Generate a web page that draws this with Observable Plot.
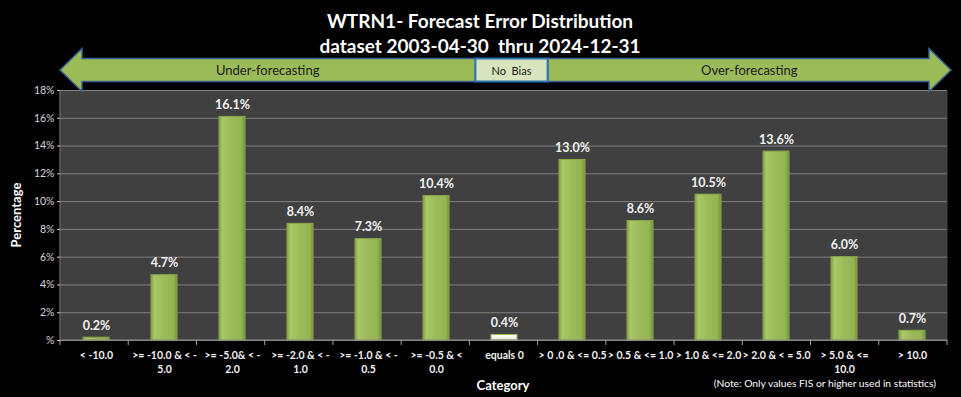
<!DOCTYPE html>
<html><head><meta charset="utf-8">
<script src="https://cdn.jsdelivr.net/npm/d3@7"></script>
<script src="https://cdn.jsdelivr.net/npm/@observablehq/plot@0.6"></script>
<style>
html,body{margin:0;padding:0;background:#000;}
</style>
</head><body>
<div id="chart"></div>
<script>
const categories = [
  "< -10.0",
  ">= -10.0 & < -\n5.0",
  ">= -5.0& < -\n2.0",
  ">= -2.0 & < -\n1.0",
  ">= -1.0 & < -\n0.5",
  ">= -0.5 & <\n0.0",
  "equals 0",
  "> 0 .0 & <= 0.5",
  "> 0.5 & <= 1.0",
  "> 1.0 & <= 2.0",
  "> 2.0 & < = 5.0",
  "> 5.0 & <=\n10.0",
  "> 10.0"
];
const values = [0.2, 4.7, 16.1, 8.4, 7.3, 10.4, 0.4, 13.0, 8.6, 10.5, 13.6, 6.0, 0.7];
const yTicks = [0, 2, 4, 6, 8, 10, 12, 14, 16, 18];
const titleLines = ["WTRN1- Forecast Error Distribution", "dataset 2003-04-30  thru 2024-12-31"];
const noteText = "(Note: Only values FIS or higher used in statistics)";

const data = categories.map((c, i) => ({category: c, value: values[i], zero: c === "equals 0"}));

const font = "Lato, 'Open Sans', sans-serif";

const plot = Plot.plot({
  width: 961,
  height: 397,
  marginTop: 90,
  marginBottom: 57,
  marginLeft: 60,
  marginRight: 14,
  style: {background: "#000", color: "#fff", fontFamily: font, overflow: "visible"},
  x: {domain: categories, paddingInner: 0.62, paddingOuter: 0.31, label: null},
  y: {domain: [0, 18], label: null},
  marks: [
    Plot.frame({fill: "#404040", stroke: null}),
    Plot.gridY(yTicks, {stroke: "#7f7f7f", strokeOpacity: 1}),
    Plot.axisY(yTicks, {tickFormat: d => d === 0 ? "%" : d + "%", tickSize: 3, tickPadding: 3, fontSize: 10.5, color: "#d9d9d9", label: null}),
    Plot.axisX({tickSize: 0, tickPadding: 8, fontSize: 10.5, fontWeight: "bold", lineHeight: 1.35, color: "#f2f2f2", label: null, textOverflow: null}),
    Plot.barY(data.filter(d => !d.zero), {x: "category", y: "value", fill: "url(#gGreen)", stroke: "#8aa84a", strokeWidth: 1}),
    Plot.barY(data.filter(d => d.zero), {x: "category", y: "value", fill: "url(#gZero)", stroke: "#9bbb59", strokeWidth: 1}),
    Plot.text(data, {x: "category", y: "value", text: d => d.value.toFixed(1) + "%", dy: -12, fill: "#f2f2f2", fontWeight: "bold", fontSize: 12.5})
  ]
});

document.getElementById("chart").appendChild(plot);

const svg = d3.select(plot);
const xs = plot.scale("x");
const ys = plot.scale("y");
const [x0, x1] = xs.range;
const step = (x1 - x0) / categories.length;
const yTop = ys.apply(18), yBot = ys.apply(0);

// gradients
const defs = svg.insert("defs", ":first-child");
const g1 = defs.append("linearGradient").attr("id", "gGreen").attr("x1", 0).attr("x2", 1).attr("y1", 0).attr("y2", 0);
[["0%", "#7d9a3f"], ["12%", "#a9c866"], ["50%", "#9bbb59"], ["88%", "#94b353"], ["100%", "#728d39"]]
  .forEach(([o, c]) => g1.append("stop").attr("offset", o).attr("stop-color", c));
const g2 = defs.append("linearGradient").attr("id", "gZero").attr("x1", 0).attr("x2", 0).attr("y1", 0).attr("y2", 1);
[["0%", "#ffffff"], ["100%", "#e6edd3"]].forEach(([o, c]) => g2.append("stop").attr("offset", o).attr("stop-color", c));

// axis lines and category separators
svg.append("line").attr("x1", x0).attr("x2", x0).attr("y1", yTop).attr("y2", yBot).attr("stroke", "#8c8c8c");
svg.append("line").attr("x1", x0).attr("x2", x1).attr("y1", yBot).attr("y2", yBot).attr("stroke", "#8c8c8c");
for (let i = 0; i <= categories.length; i++) {
  const x = x0 + i * step;
  svg.append("line").attr("x1", x).attr("x2", x).attr("y1", yBot).attr("y2", yBot + 5).attr("stroke", "#a6a6a6");
}

// title
titleLines.forEach((t, i) => {
  svg.append("text").attr("x", 480).attr("y", 28 + i * 25).attr("text-anchor", "middle")
    .attr("fill", "#fff").attr("font-weight", "bold").attr("font-size", 19).attr("font-family", font).text(t);
});

// direction arrows
const midY = 70, bodyH = 23, headH = 43, headW = 22;
const zeroStart = x0 + 6 * step + 6;
const zeroEnd = x0 + 7 * step + 10;
const leftTip = x0, rightTip = x1 + 4;
const arrowStyle = s => s.attr("fill", "#9bbb59").attr("stroke", "#3b6090").attr("stroke-width", 1.5);
arrowStyle(svg.append("polygon").attr("points", [
  [leftTip, midY], [leftTip + headW, midY - headH / 2], [leftTip + headW, midY - bodyH / 2],
  [zeroStart, midY - bodyH / 2], [zeroStart, midY + bodyH / 2], [leftTip + headW, midY + bodyH / 2],
  [leftTip + headW, midY + headH / 2]
].map(p => p.join(",")).join(" ")));
arrowStyle(svg.append("polygon").attr("points", [
  [rightTip, midY], [rightTip - headW, midY - headH / 2], [rightTip - headW, midY - bodyH / 2],
  [zeroEnd, midY - bodyH / 2], [zeroEnd, midY + bodyH / 2], [rightTip - headW, midY + bodyH / 2],
  [rightTip - headW, midY + headH / 2]
].map(p => p.join(",")).join(" ")));
svg.append("rect").attr("x", zeroStart).attr("y", midY - bodyH / 2).attr("width", zeroEnd - zeroStart).attr("height", bodyH)
  .attr("fill", "#d7e4bd").attr("stroke", "#2e75b6").attr("stroke-width", 2);
const label = (x, t, size) => svg.append("text").attr("x", x).attr("y", midY + 4.5).attr("text-anchor", "middle")
  .attr("fill", "#1a1a1a").attr("font-size", size).attr("font-family", font).text(t);
label((leftTip + zeroStart) / 2, "Under-forecasting", 13);
label((zeroStart + zeroEnd) / 2, "No  Bias", 11);
label((zeroEnd + rightTip) / 2, "Over-forecasting", 13);

// axis titles and note
svg.append("text").attr("transform", `translate(21,${(yTop + yBot) / 2}) rotate(-90)`).attr("text-anchor", "middle")
  .attr("fill", "#fff").attr("font-weight", "bold").attr("font-size", 13).attr("font-family", font).text("Percentage");
svg.append("text").attr("x", 503).attr("y", 390).attr("text-anchor", "middle")
  .attr("fill", "#fff").attr("font-weight", "bold").attr("font-size", 13).attr("font-family", font).text("Category");
svg.append("text").attr("x", 936).attr("y", 387).attr("text-anchor", "end")
  .attr("fill", "#fff").attr("font-size", 10.3).attr("font-family", font).text(noteText);
</script>
</body></html>
